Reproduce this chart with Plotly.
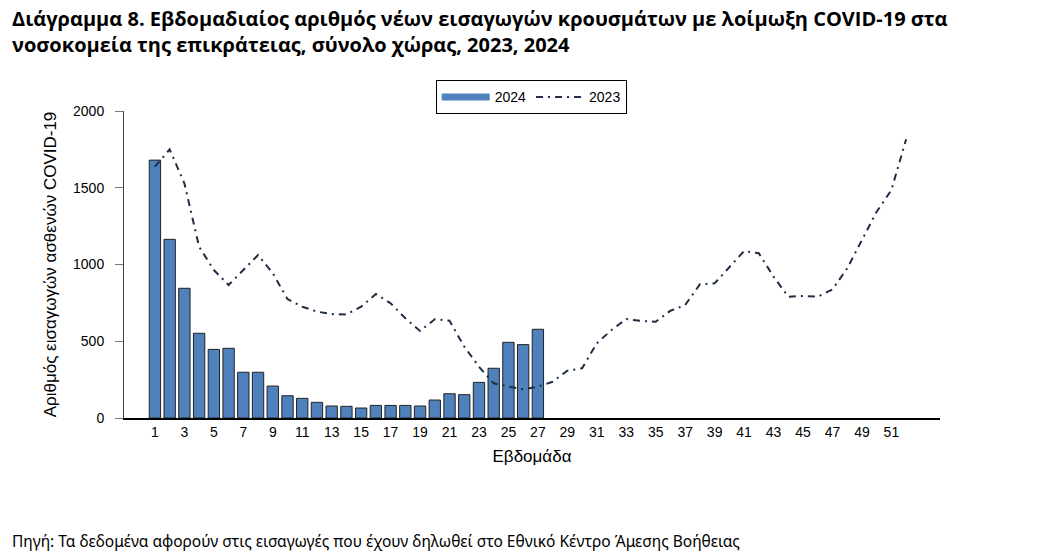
import plotly.graph_objects as go

# weekly new COVID-19 admissions
weeks_2024 = list(range(1, 28))
admissions_2024 = [1680, 1164, 845, 552, 447, 454, 298, 298, 208, 145,
                   128, 102, 78, 76, 65, 82, 82, 82, 78, 117,
                   158, 152, 232, 324, 493, 478, 578]

weeks_2023 = list(range(1, 53))
admissions_2023 = [1637, 1750, 1529, 1116, 964, 866, 964, 1062, 943, 775,
                   725, 693, 677, 675, 725, 808, 747, 650, 567, 643,
                   634, 465, 334, 226, 204, 187, 204, 236, 308, 324,
                   487, 573, 645, 632, 627, 699, 736, 871, 877, 986,
                   1088, 1073, 921, 790, 795, 790, 838, 975, 1160, 1344,
                   1485, 1816]

tick_weeks = list(range(1, 52, 2))

bar_color = "#4f81bd"
line_color = "#1f2d45"
font_main = "Liberation Sans"

fig = go.Figure()

fig.add_trace(go.Bar(
    x=weeks_2024, y=admissions_2024, name="2024", width=0.77,
    marker=dict(color=bar_color, line=dict(color="#222222", width=1)),
    showlegend=False,
))
# legend entry drawn as a thick line, like the original
fig.add_trace(go.Scatter(
    x=[None], y=[None], mode="lines", name="2024",
    line=dict(color=bar_color, width=7),
))
fig.add_trace(go.Scatter(
    x=weeks_2023, y=admissions_2023, mode="lines", name="2023",
    line=dict(color=line_color, width=2, dash="7px,5px,2px,5px"),
))

fig.update_layout(
    width=1061, height=556,
    margin=dict(l=124, r=121, t=111, b=138),
    paper_bgcolor="white", plot_bgcolor="white",
    font=dict(family=font_main, size=14, color="black"),
    bargap=0.2,
    legend=dict(
        orientation="h", x=0.499, xanchor="center", y=1.1, yanchor="top",
        bordercolor="black", borderwidth=1, font=dict(size=14),
        itemwidth=48, traceorder="normal",
        tracegroupgap=0, valign="middle",
    ),
    xaxis=dict(
        range=[-1.1, 54.3], tickmode="array", tickvals=tick_weeks,
        ticktext=[str(w) for w in tick_weeks],
        showgrid=False, zeroline=False, showline=True,
        linecolor="black", linewidth=1.5, ticks="",
        title=dict(text="Εβδομάδα", standoff=12),
    ),
    yaxis=dict(
        range=[0, 2000], tickvals=[0, 500, 1000, 1500, 2000],
        showgrid=False, zeroline=False, showline=True,
        linecolor="#444444", linewidth=1, ticks="outside", ticklen=8,
        tickcolor="#777777", ticklabelstandoff=8,
        title=dict(text="Αριθμός εισαγωγών ασθενών COVID-19", standoff=12),
    ),
)

fig.add_annotation(
    xref="paper", yref="paper", x=(10 - 124) / 816, y=1 + 108 / 307,
    xanchor="left", yanchor="top", align="left", showarrow=False,
    text="Διάγραμμα 8. Εβδομαδιαίος αριθμός νέων εισαγωγών κρουσμάτων με λοίμωξη COVID-19 στα<br>"
         "νοσοκομεία της επικράτειας, σύνολο χώρας, 2023, 2024",
    font=dict(family="Open Sans", size=20, color="black", weight="bold"),
)
fig.add_annotation(
    xref="paper", yref="paper", x=(10 - 124) / 816, y=-(541 - 418) / 307,
    xanchor="left", yanchor="middle", showarrow=False,
    text="Πηγή: Τα δεδομένα αφορούν στις εισαγωγές που έχουν δηλωθεί στο Εθνικό Κέντρο Άμεσης Βοήθειας",
    font=dict(family="Noto Sans", size=15.5, color="black"),
)

# drop the browser's default 8px body margin so the figure sits at 0,0
fig.write_html("out.html", config={"displayModeBar": False},
               post_script="document.body.style.margin='0';")
